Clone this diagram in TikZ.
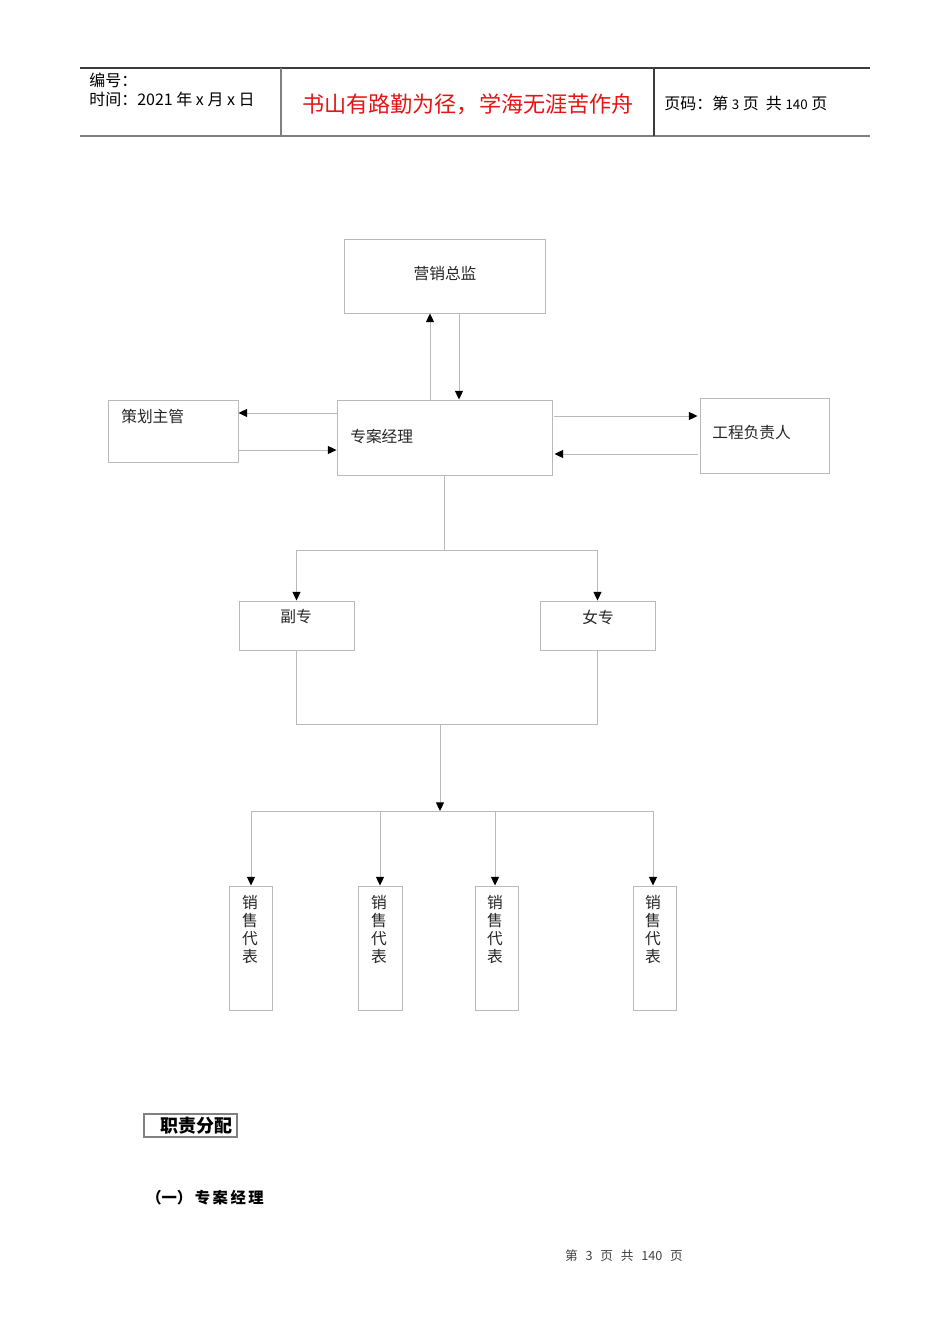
\documentclass[tikz,border=0pt]{standalone}
\usepackage{fontspec}
\setmainfont{Noto Sans CJK SC}
\usetikzlibrary{arrows.meta}
\definecolor{lgray}{RGB}{185,185,185}
\definecolor{dgray}{RGB}{60,60,60}
\definecolor{hred}{RGB}{230,20,20}
\begin{document}
\begin{tikzpicture}[x=0.75pt,y=-0.75pt,
  box/.style={draw=lgray,line width=0.7pt,inner sep=0pt},
  lbl/.style={inner sep=0pt,font=\fontsize{11.8pt}{13pt}\selectfont,text=black!85},
  hdr/.style={anchor=west,inner sep=0pt,font=\fontsize{12pt}{13pt}\selectfont},
  conn/.style={draw=lgray,line width=0.7pt},
  arr/.style={conn,-{Triangle[length=6.5pt,width=6pt,color=black,fill=black]}}]
\useasboundingbox (0,0) rectangle (950,1344);
% header
\draw[dgray,line width=0.8pt] (80,68) -- (870,68);
\draw[gray,line width=1.4pt] (80,136) -- (870,136);
\draw[gray,line width=0.9pt] (281,68) -- (281,136);
\draw[dgray,line width=0.8pt] (654,68) -- (654,136);
\node[hdr] (h1) at (89,80) {编号：};
\node[hdr] (h2) at (89,99) {时间：2021 年 x 月 x 日};
\node[inner sep=0pt,font=\fontsize{16.6pt}{18pt}\selectfont,text=hred] (h3) at (468,104) {书山有路勤为径，学海无涯苦作舟};
\node[hdr] (h4) at (664,103) {页码：第 {\fontsize{10pt}{11pt}\selectfont 3} 页\ \ 共 {\fontsize{10pt}{11pt}\selectfont 140} 页};
% boxes
\node[box,minimum width=150.75pt,minimum height=55.5pt] (yx) at (444.5,276) {};
\node[box,minimum width=161.25pt,minimum height=56.25pt] (zj) at (444.5,437.5) {};
\node[box,minimum width=97.5pt,minimum height=46.5pt] (ch) at (173,431) {};
\node[box,minimum width=96.75pt,minimum height=56.25pt] (gc) at (764.5,435.5) {};
\node[box,minimum width=86.25pt,minimum height=36.75pt] (fz) at (296.5,625.5) {};
\node[box,minimum width=86.25pt,minimum height=36.75pt] (nz) at (597.5,625.5) {};
\node[box,minimum width=32.25pt,minimum height=93pt] (s1) at (250.5,948) {};
\node[box,minimum width=33pt,minimum height=93pt] (s2) at (380,948) {};
\node[box,minimum width=32.25pt,minimum height=93pt] (s3) at (496.5,948) {};
\node[box,minimum width=32.25pt,minimum height=93pt] (s4) at (654.5,948) {};
% labels
\node[lbl] (tyx) at (445,274) {营销总监};
\node[lbl,anchor=west] (tzj) at (350,436) {专案经理};
\node[lbl,anchor=west] (tch) at (121,416) {策划主管};
\node[lbl,anchor=west] (tgc) at (712,433) {工程负责人};
\node[lbl] (tfz) at (296,617) {副专};
\node[lbl] (tnz) at (598,617) {女专};
\foreach \n/\x in {1/250,2/379,3/495,4/653}{
  \node[lbl,align=center,font=\fontsize{11.8pt}{13.5pt}\selectfont] (ts\n) at (\x,929) {销\\售\\代\\表};
}
% helper coordinates
\coordinate (x430) at (430,0);
\coordinate (x459) at (459,0);
\coordinate (y413) at (0,413);
\coordinate (y450) at (0,450);
\coordinate (y416) at (0,416);
\coordinate (y454) at (0,454);
\coordinate (j1) at (444.5,550);
\coordinate (j1l) at (296.5,550);
\coordinate (j1r) at (597.5,550);
\coordinate (j2l) at (296.5,724);
\coordinate (j2r) at (597.5,724);
\coordinate (j2) at (440,724);
\coordinate (j3) at (440,811);
\coordinate (j3l) at (251,811);
\coordinate (j3a) at (380,811);
\coordinate (j3b) at (495,811);
\coordinate (j3r) at (653,811);
% connectors
\draw[arr] (zj.north -| x430) -- (yx.south -| x430);
\draw[arr] (yx.south -| x459) -- (zj.north -| x459);
\draw[arr] (zj.west |- y413) -- (ch.east |- y413);
\draw[arr] (ch.east |- y450) -- (zj.west |- y450);
\draw[arr] ([xshift=1.5pt]zj.east |- y416) -- ([xshift=-1.5pt]gc.west |- y416);
\draw[arr] ([xshift=-1.5pt]gc.west |- y454) -- ([xshift=1.5pt]zj.east |- y454);
\draw[conn] (zj.south) -- (j1);
\draw[conn] (j1l) -- (j1r);
\draw[arr] (j1l) -- (fz.north);
\draw[arr] (j1r) -- (nz.north);
\draw[conn] (fz.south) -- (j2l) -- (j2r) -- (nz.south);
\draw[arr] (j2) -- (j3);
\draw[conn] (j3l) -- (j3r);
\draw[arr] (j3l) -- (s1.north -| j3l);
\draw[arr] (j3a) -- (s2.north -| j3a);
\draw[arr] (j3b) -- (s3.north -| j3b);
\draw[arr] (j3r) -- (s4.north -| j3r);
% bottom text
\node[draw=gray,line width=0.8pt,minimum width=69.75pt,minimum height=17.25pt,inner sep=0pt] (zf) at (190.5,1125.5) {};
\node[inner sep=0pt,font=\bfseries\fontsize{13.5pt}{15pt}\selectfont] (tzf) at (196,1126) {职责分配};
\node[anchor=west,inner sep=0pt,font=\bfseries\fontsize{11.5pt}{13pt}\selectfont] (t1) at (146,1198) {（一）\,专\,案\,经\,理};
\node[inner sep=0pt,font=\fontsize{9.5pt}{11pt}\selectfont,text=black!75] (ft) at (624,1256) {第\ \ \,3\ \ \,页\ \ \,共\ \ \,140\ \ \,页};
\end{tikzpicture}
\end{document}
